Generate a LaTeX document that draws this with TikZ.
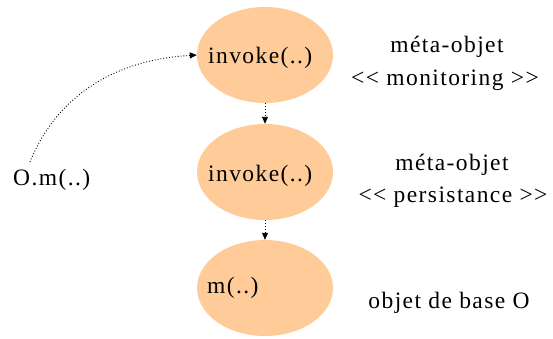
\documentclass[tikz,border=0pt]{standalone}
\usepackage{fontspec}
\setmainfont{Liberation Serif}[LetterSpace=6]
\usetikzlibrary{arrows.meta,shapes.geometric}
\definecolor{blob}{HTML}{FFCC99}
\tikzset{
  x=1pt,y=-1pt,
  blobnode/.style={ellipse,fill=blob,minimum width=136pt,minimum height=96pt,inner sep=0pt},
  lbl/.style={font=\fontsize{23.5}{27}\selectfont,inner sep=0pt,anchor=base},
  call/.style={dotted,line width=0.9pt,-{Triangle[length=7pt,width=6pt]}}
}
\begin{document}
\begin{tikzpicture}
\useasboundingbox (0,0) rectangle (553,338);
\node[blobnode] (e1) at (265,55) {};
\node[blobnode] (e2) at (265,172) {};
\node[blobnode] (e3) at (265,288) {};
\node[lbl,anchor=base west] (t1) at (208,63) {invoke(..)};
\node[lbl,anchor=base west] (t2) at (208,181) {invoke(..)};
\node[lbl,anchor=base west] (t3) at (207,293) {m(..)};
\node[lbl,anchor=base west] (om) at (13,185) {O.m(..)};
\node[lbl] (m1) at (447,52) {méta-objet};
\node[lbl] (s1) at (445,85) {{<}{<} monitoring {>}{>}};
\node[lbl] (m2) at (452,170) {méta-objet};
\node[lbl] (s2) at (453,202) {{<}{<} persistance {>}{>}};
\node[lbl] (b3) at (449,308) {objet de base O};
\coordinate (omtop) at (30,162);
\draw[call] (omtop) .. controls (55,100) and (110,60) .. (e1.west);
\draw[call] (e1.south) -- (e2.north);
\draw[call] (e2.south) -- (e3.north);
\end{tikzpicture}
\end{document}
